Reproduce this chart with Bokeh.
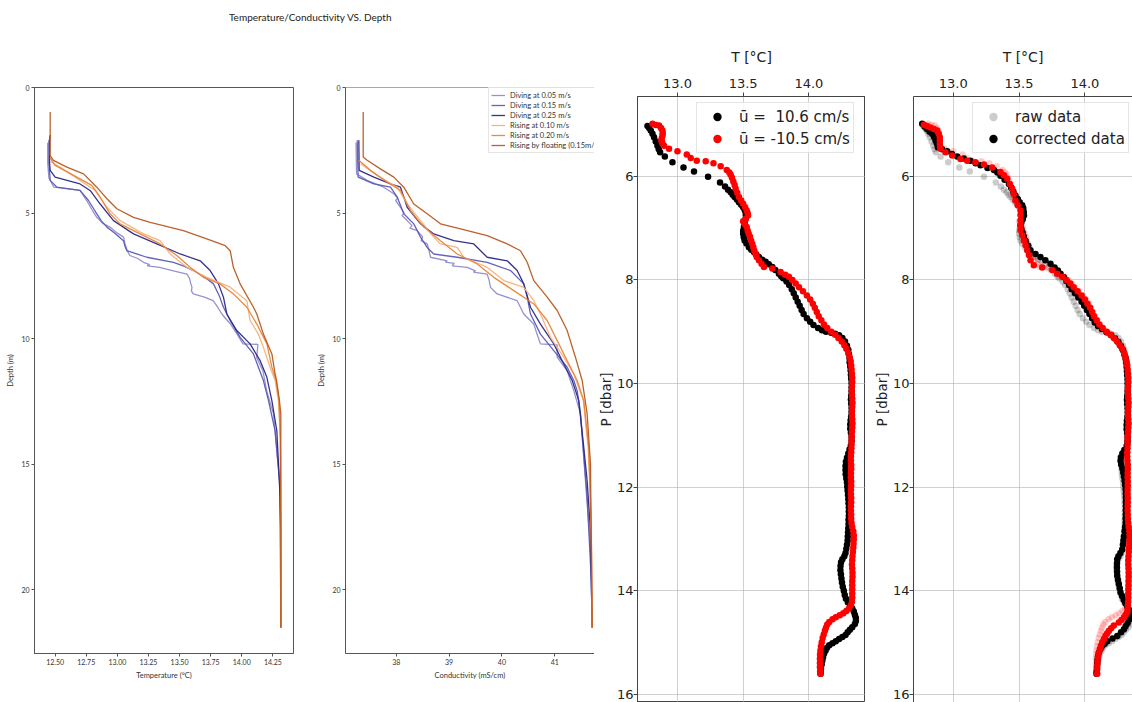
from bokeh.plotting import figure
from bokeh.models import Range1d, FixedTicker, Label, Legend, LegendItem, Span, NumeralTickFormatter, Spacer
from bokeh.layouts import row, column
from bokeh.embed import file_html
from bokeh.resources import INLINE

# ---------------- data: panel 1 (temperature vs depth) ----------------
# (depth m, temperature C)
temp_dive_005 = [(2.2, 12.44), (3.0, 12.44), (3.6, 12.45), (3.97, 12.49), (4.1, 12.70), (4.4, 12.74), (4.64, 12.77),
                 (4.9, 12.80), (5.17, 12.835), (5.4, 12.88), (5.56, 12.94), (5.8, 13.00), (5.96, 13.05), (6.2, 13.06),
                 (6.5, 13.08), (6.69, 13.10), (6.8, 13.16), (6.96, 13.21), (7.05, 13.26), (7.1, 13.24), (7.16, 13.34),
                 (7.3, 13.45), (7.43, 13.56), (7.6, 13.58), (7.8, 13.59), (7.96, 13.60), (8.1, 13.595), (8.22, 13.61),
                 (8.35, 13.70), (8.49, 13.77), (8.7, 13.80), (9.02, 13.84), (9.2, 13.87), (9.42, 13.91), (9.8, 13.96),
                 (10.21, 14.01), (10.23, 14.13), (10.5, 14.125), (10.75, 14.12), (11.28, 14.17), (12.07, 14.20),
                 (13.0, 14.255), (14.34, 14.28), (15.66, 14.305), (17.5, 14.314), (21.5, 14.314)]
temp_dive_015 = [(2.1, 12.45), (3.0, 12.45), (3.7, 12.46), (3.97, 12.514), (4.1, 12.70), (4.5, 12.768), (5.03, 12.835),
                 (5.3, 12.87), (5.56, 12.916), (5.8, 12.98), (6.1, 13.049), (6.3, 13.06), (6.5, 13.076), (6.76, 13.237),
                 (6.96, 13.451), (7.1, 13.53), (7.29, 13.612), (7.55, 13.70), (7.82, 13.773), (8.3, 13.82),
                 (8.75, 13.853), (9.28, 13.907), (9.95, 13.987), (10.61, 14.094), (11.14, 14.134), (11.67, 14.174),
                 (12.47, 14.215), (13.67, 14.268), (15.66, 14.303), (17.5, 14.312), (21.5, 14.314)]
temp_dive_025 = [(1.9, 12.46), (2.06, 12.455), (3.0, 12.455), (3.3, 12.46), (3.57, 12.5), (3.84, 12.70), (4.1, 12.781),
                 (4.64, 12.862), (5.3, 12.969), (5.83, 13.13), (6.23, 13.317), (6.63, 13.505), (6.9, 13.666),
                 (7.29, 13.746), (7.82, 13.813), (8.35, 13.853), (9.02, 13.88), (9.68, 13.96), (10.21, 14.067),
                 (10.88, 14.148), (11.54, 14.202), (12.47, 14.242), (13.67, 14.282), (16.33, 14.309), (21.5, 14.314)]
temp_rise_010 = [(2.94, 12.46), (3.2, 12.55), (3.7, 12.70), (4.1, 12.822), (4.77, 12.916), (5.3, 13.022), (5.83, 13.21),
                 (6.1, 13.344), (6.63, 13.424), (7.16, 13.559), (7.56, 13.719), (7.95, 13.907), (8.49, 14.041),
                 (9.28, 14.067), (9.82, 14.134), (10.35, 14.174), (11.14, 14.228), (11.67, 14.268), (12.47, 14.295),
                 (14.0, 14.310), (17.0, 14.314), (21.5, 14.314)]
temp_rise_020 = [(2.8, 12.46), (3.1, 12.5), (3.57, 12.674), (3.9, 12.795), (4.37, 12.862), (5.03, 12.942), (5.43, 13.022),
                 (5.83, 13.183), (6.23, 13.344), (6.69, 13.478), (7.16, 13.585), (7.56, 13.692), (7.82, 13.826),
                 (8.22, 13.933), (8.75, 14.041), (9.42, 14.121), (10.21, 14.202), (11.14, 14.242), (11.67, 14.277),
                 (12.47, 14.30), (14.0, 14.31), (17.0, 14.314), (21.5, 14.314)]
temp_float = [(0.98, 12.46), (2.71, 12.46), (2.9, 12.486), (3.17, 12.594), (3.44, 12.728), (3.97, 12.835), (4.43, 12.916),
              (4.83, 12.996), (5.17, 13.13), (5.37, 13.264), (5.70, 13.531), (6.03, 13.719), (6.30, 13.867),
              (6.50, 13.907), (7.17, 13.933), (7.82, 13.987), (8.75, 14.094), (9.02, 14.121), (9.82, 14.174),
              (10.61, 14.242), (11.41, 14.268), (11.67, 14.28), (12.47, 14.303), (13.0, 14.314), (21.5, 14.314)]

# ---------------- data: panel 2 (conductivity vs depth) ----------------
cond_dive_005 = [(2.2, 37.24), (3.44, 37.25), (3.7, 37.45), (3.97, 37.765), (4.23, 37.955), (4.4, 38.03), (4.5, 37.99),
                 (4.77, 38.081), (5.0, 38.15), (5.1, 38.11), (5.3, 38.208), (5.5, 38.30), (5.6, 38.26), (5.7, 38.397),
                 (5.95, 38.50), (6.1, 38.47), (6.23, 38.586), (6.5, 38.62), (6.76, 38.649), (6.9, 38.965),
                 (6.95, 38.93), (7.0, 39.10), (7.1, 39.06), (7.16, 39.343), (7.3, 39.50), (7.35, 39.46),
                 (7.43, 39.721), (7.7, 39.76), (7.96, 39.784), (8.22, 39.91), (8.49, 40.288), (8.75, 40.35),
                 (9.02, 40.413), (9.42, 40.603), (9.8, 40.66), (10.21, 40.729), (10.25, 41.045), (10.74, 41.045),
                 (11.28, 41.234), (12.07, 41.359), (13.0, 41.486), (15.66, 41.58), (18.3, 41.675), (21.5, 41.707)]
cond_dive_015 = [(2.1, 37.262), (3.57, 37.28), (3.84, 37.577), (3.97, 37.892), (4.37, 38.02), (5.03, 38.144),
                 (5.43, 38.333), (5.96, 38.46), (6.37, 38.586), (6.63, 38.711), (6.76, 39.154), (6.96, 39.721),
                 (7.29, 40.162), (7.82, 40.413), (8.35, 40.478), (9.02, 40.54), (9.82, 40.729), (10.48, 40.981),
                 (11.14, 41.234), (11.67, 41.359), (12.07, 41.423), (13.0, 41.486), (16.33, 41.612), (19.6, 41.69),
                 (21.5, 41.707)]
cond_dive_025 = [(2.1, 37.293), (3.3, 37.30), (3.57, 37.577), (3.84, 37.892), (3.97, 38.081), (4.77, 38.208),
                 (5.43, 38.46), (5.83, 38.711), (6.1, 39.09), (6.23, 39.468), (6.76, 39.721), (6.9, 40.10),
                 (7.29, 40.288), (7.82, 40.413), (8.75, 40.54), (9.42, 40.729), (10.21, 40.981), (11.01, 41.17),
                 (11.67, 41.329), (12.47, 41.454), (14.33, 41.548), (15.66, 41.612), (17.65, 41.675), (21.5, 41.707)]
cond_rise_010 = [(3.04, 37.325), (3.5, 37.64), (3.97, 38.02), (4.64, 38.208), (5.3, 38.46), (5.96, 38.711),
                 (6.23, 38.838), (6.37, 39.154), (6.76, 39.279), (7.16, 39.721), (7.69, 40.035), (7.96, 40.413),
                 (8.49, 40.603), (9.02, 40.729), (9.95, 40.919), (10.75, 41.17), (11.41, 41.359), (12.47, 41.54),
                 (14.33, 41.63), (17.0, 41.69), (21.5, 41.707)]
cond_rise_020 = [(2.9, 37.293), (3.3, 37.514), (3.77, 37.83), (4.1, 38.081), (4.9, 38.27), (5.56, 38.522),
                 (6.1, 38.838), (6.63, 39.154), (7.03, 39.532), (7.56, 39.846), (8.09, 40.224), (8.62, 40.603),
                 (9.28, 40.856), (10.08, 41.045), (10.88, 41.234), (11.67, 41.423), (12.47, 41.548), (14.33, 41.643),
                 (18.3, 41.694), (21.5, 41.707)]
cond_float = [(0.98, 37.376), (2.77, 37.376), (2.9, 37.45), (3.24, 37.70), (3.57, 37.955), (3.97, 38.144),
              (4.64, 38.333), (5.03, 38.586), (5.43, 38.838), (5.63, 39.216), (5.9, 39.721), (6.23, 40.10),
              (6.5, 40.351), (6.96, 40.478), (7.69, 40.603), (8.35, 40.856), (8.88, 41.045), (9.68, 41.234),
              (10.74, 41.39), (11.67, 41.518), (13.0, 41.612), (14.99, 41.675), (21.5, 41.707)]

series_labels = ["Diving at 0.05 m/s", "Diving at 0.15 m/s", "Diving at 0.25 m/s",
                 "Rising at 0.10 m/s", "Rising at 0.20 m/s", "Rising by floating (0.15m/s)"]
series_colors = ["#8f8ccd", "#5c59b5", "#2b2887", "#f5b27d", "#e8833a", "#b8581d"]

# ---------------- data: panel 3 (raw profiles, P dbar, T C) ----------------
down_raw = [(5.03, 12.772), (5.07, 12.785), (5.12, 12.797), (5.18, 12.81), (5.25, 12.822), (5.33, 12.835), (5.41, 12.848),
            (5.48, 12.858), (5.54, 12.868), (5.62, 12.904), (5.73, 12.962), (5.83, 13.046), (5.91, 13.126),
            (6.01, 13.233), (6.12, 13.324), (6.20, 13.362), (6.26, 13.385), (6.31, 13.405), (6.36, 13.42),
            (6.40, 13.435), (6.45, 13.452), (6.50, 13.468), (6.55, 13.485), (6.60, 13.50), (6.65, 13.512),
            (6.69, 13.519), (6.75, 13.52), (6.82, 13.519), (6.90, 13.512), (6.98, 13.506), (7.05, 13.50),
            (7.11, 13.50), (7.18, 13.505), (7.24, 13.511), (7.30, 13.525), (7.37, 13.544), (7.42, 13.562),
            (7.46, 13.582), (7.51, 13.60), (7.56, 13.62), (7.61, 13.645), (7.65, 13.671), (7.70, 13.695),
            (7.75, 13.722), (7.81, 13.745), (7.88, 13.772), (7.93, 13.79), (7.97, 13.805), (8.03, 13.83),
            (8.10, 13.85), (8.18, 13.87), (8.26, 13.885), (8.34, 13.90), (8.42, 13.915), (8.50, 13.93),
            (8.58, 13.945), (8.66, 13.96), (8.74, 13.985), (8.81, 14.01), (8.87, 14.035), (8.93, 14.07),
            (8.97, 14.10), (9.00, 14.13), (9.02, 14.17), (9.04, 14.20), (9.07, 14.23), (9.12, 14.255),
            (9.19, 14.275), (9.27, 14.29), (9.35, 14.30), (9.43, 14.305), (9.51, 14.31), (9.59, 14.31),
            (9.67, 14.315), (9.75, 14.318), (9.83, 14.32), (9.91, 14.322), (9.99, 14.325), (10.07, 14.325),
            (10.15, 14.325), (10.23, 14.322), (10.31, 14.32), (10.39, 14.322), (10.47, 14.325), (10.55, 14.325),
            (10.63, 14.322), (10.71, 14.318), (10.79, 14.315), (10.87, 14.315), (10.95, 14.32), (11.03, 14.325),
            (11.11, 14.325), (11.19, 14.32), (11.27, 14.31), (11.35, 14.30), (11.43, 14.29), (11.51, 14.282),
            (11.59, 14.279), (11.67, 14.279), (11.75, 14.28), (11.83, 14.285), (11.91, 14.29), (11.99, 14.292),
            (12.07, 14.295), (12.15, 14.298), (12.23, 14.30), (12.31, 14.302), (12.39, 14.304), (12.47, 14.304),
            (12.55, 14.304), (12.63, 14.302), (12.71, 14.302), (12.79, 14.30), (12.87, 14.298), (12.95, 14.296),
            (13.03, 14.295), (13.11, 14.29), (13.19, 14.285), (13.27, 14.279), (13.33, 14.27), (13.39, 14.255),
            (13.45, 14.245), (13.52, 14.241), (13.60, 14.24), (13.68, 14.244), (13.76, 14.248), (13.84, 14.252),
            (13.92, 14.258), (14.00, 14.266), (14.08, 14.273), (14.15, 14.282), (14.22, 14.297), (14.28, 14.315),
            (14.34, 14.33), (14.40, 14.342), (14.46, 14.35), (14.52, 14.357), (14.58, 14.358), (14.64, 14.35),
            (14.70, 14.33), (14.75, 14.312), (14.80, 14.295), (14.85, 14.279), (14.89, 14.255), (14.93, 14.23),
            (14.97, 14.205), (15.01, 14.18), (15.05, 14.155), (15.10, 14.138), (15.15, 14.127), (15.21, 14.116),
            (15.28, 14.108), (15.35, 14.102), (15.42, 14.097), (15.50, 14.092), (15.57, 14.09), (15.60, 14.089)]
up_raw = [(4.99, 12.81), (5.01, 12.835), (5.02, 12.86), (5.07, 12.875), (5.12, 12.886), (5.17, 12.888), (5.22, 12.886),
          (5.27, 12.88), (5.31, 12.878), (5.36, 12.885), (5.41, 12.898), (5.47, 12.936), (5.52, 13.00), (5.58, 13.071),
          (5.65, 13.101), (5.70, 13.147), (5.71, 13.215), (5.75, 13.274), (5.81, 13.329), (5.88, 13.375),
          (5.93, 13.395), (5.97, 13.405), (6.03, 13.415), (6.10, 13.425), (6.17, 13.435), (6.24, 13.443),
          (6.32, 13.455), (6.40, 13.468), (6.47, 13.485), (6.53, 13.50), (6.60, 13.515), (6.66, 13.527),
          (6.71, 13.534), (6.76, 13.537), (6.82, 13.52), (6.87, 13.50), (6.92, 13.512), (6.98, 13.527),
          (7.05, 13.535), (7.11, 13.542), (7.17, 13.552), (7.24, 13.56), (7.31, 13.57), (7.37, 13.577),
          (7.44, 13.585), (7.50, 13.595), (7.56, 13.603), (7.62, 13.62), (7.69, 13.64), (7.75, 13.658),
          (7.78, 13.722), (7.85, 13.785), (7.90, 13.82), (7.94, 13.848), (8.00, 13.875), (8.07, 13.90),
          (8.14, 13.925), (8.22, 13.955), (8.30, 13.985), (8.38, 14.01), (8.46, 14.03), (8.54, 14.045),
          (8.62, 14.06), (8.70, 14.075), (8.78, 14.095), (8.86, 14.115), (8.93, 14.14), (9.00, 14.17),
          (9.06, 14.20), (9.12, 14.225), (9.19, 14.25), (9.26, 14.27), (9.33, 14.285), (9.41, 14.30),
          (9.49, 14.31), (9.57, 14.318), (9.65, 14.322), (9.73, 14.325), (9.81, 14.328), (9.89, 14.33),
          (9.97, 14.33), (10.05, 14.328), (10.13, 14.326), (10.21, 14.328), (10.29, 14.33), (10.37, 14.332),
          (10.45, 14.33), (10.53, 14.328), (10.61, 14.328), (10.69, 14.33), (10.77, 14.332), (10.85, 14.33),
          (10.93, 14.328), (11.01, 14.326), (11.09, 14.325), (11.17, 14.325), (11.25, 14.324), (11.33, 14.322),
          (11.41, 14.32), (11.49, 14.32), (11.57, 14.322), (11.65, 14.322), (11.73, 14.32), (11.81, 14.32),
          (11.89, 14.322), (11.97, 14.322), (12.05, 14.32), (12.13, 14.32), (12.21, 14.322), (12.29, 14.322),
          (12.37, 14.32), (12.45, 14.32), (12.53, 14.322), (12.61, 14.322), (12.69, 14.325), (12.77, 14.33),
          (12.85, 14.338), (12.93, 14.342), (13.01, 14.342), (13.09, 14.34), (13.17, 14.338), (13.25, 14.335),
          (13.33, 14.332), (13.41, 14.33), (13.49, 14.328), (13.57, 14.33), (13.65, 14.332), (13.73, 14.332),
          (13.81, 14.33), (13.89, 14.33), (13.97, 14.33), (14.05, 14.33), (14.13, 14.33), (14.21, 14.328),
          (14.28, 14.32), (14.34, 14.305), (14.39, 14.285), (14.43, 14.262), (14.47, 14.235), (14.51, 14.205),
          (14.55, 14.18), (14.60, 14.155), (14.65, 14.14), (14.71, 14.13), (14.77, 14.122), (14.84, 14.113),
          (14.91, 14.105), (14.99, 14.098), (15.07, 14.092), (15.15, 14.088), (15.23, 14.085), (15.31, 14.084),
          (15.39, 14.084), (15.47, 14.084), (15.55, 14.086), (15.60, 14.089)]

# ---------------- data: panel 4 (corrected profiles) ----------------
down_corr = [(4.99, 12.764), (5.04, 12.782), (5.09, 12.80), (5.14, 12.82), (5.18, 12.84), (5.24, 12.853), (5.31, 12.865),
             (5.37, 12.875), (5.44, 12.883), (5.48, 12.915), (5.52, 12.954), (5.57, 12.99), (5.62, 13.03),
             (5.66, 13.08), (5.70, 13.13), (5.75, 13.17), (5.79, 13.207), (5.84, 13.26), (5.88, 13.309),
             (5.93, 13.335), (5.99, 13.359), (6.07, 13.39), (6.15, 13.423), (6.22, 13.44), (6.30, 13.457),
             (6.37, 13.473), (6.44, 13.49), (6.50, 13.505), (6.56, 13.524), (6.62, 13.532), (6.69, 13.536),
             (6.76, 13.537), (6.83, 13.528), (6.89, 13.518), (6.95, 13.511), (7.02, 13.518), (7.09, 13.527),
             (7.17, 13.537), (7.25, 13.55), (7.34, 13.57), (7.43, 13.587), (7.50, 13.625), (7.56, 13.663),
             (7.62, 13.70), (7.69, 13.739), (7.76, 13.77), (7.82, 13.795), (7.88, 13.815), (7.95, 13.84),
             (8.02, 13.86), (8.10, 13.88), (8.18, 13.90), (8.26, 13.925), (8.34, 13.95), (8.42, 13.975),
             (8.50, 13.995), (8.58, 14.015), (8.66, 14.035), (8.74, 14.055), (8.82, 14.075), (8.89, 14.10),
             (8.95, 14.13), (9.01, 14.165), (9.07, 14.20), (9.13, 14.23), (9.20, 14.255), (9.28, 14.275),
             (9.36, 14.29), (9.44, 14.30), (9.52, 14.31), (9.60, 14.315), (9.68, 14.318), (9.76, 14.32),
             (9.84, 14.322), (9.92, 14.325), (10.0, 14.325), (10.08, 14.326), (10.16, 14.325), (10.24, 14.322),
             (10.32, 14.32), (10.40, 14.322), (10.48, 14.325), (10.56, 14.326), (10.64, 14.324), (10.72, 14.32),
             (10.80, 14.318), (10.88, 14.318), (10.96, 14.322), (11.04, 14.325), (11.12, 14.324), (11.20, 14.318),
             (11.28, 14.30), (11.35, 14.285), (11.42, 14.274), (11.49, 14.271), (11.56, 14.276), (11.64, 14.285),
             (11.72, 14.292), (11.80, 14.297), (11.88, 14.302), (11.96, 14.306), (12.05, 14.31), (12.13, 14.311),
             (12.21, 14.312), (12.29, 14.312), (12.37, 14.312), (12.45, 14.311), (12.53, 14.311), (12.61, 14.31),
             (12.69, 14.31), (12.77, 14.306), (12.85, 14.302), (12.95, 14.297), (13.03, 14.293), (13.11, 14.289),
             (13.20, 14.284), (13.27, 14.27), (13.33, 14.255), (13.39, 14.246), (13.47, 14.244), (13.55, 14.244),
             (13.63, 14.245), (13.71, 14.246), (13.79, 14.252), (13.87, 14.258), (13.95, 14.265), (14.03, 14.271),
             (14.10, 14.283), (14.17, 14.295), (14.24, 14.308), (14.30, 14.322), (14.36, 14.335), (14.42, 14.347),
             (14.48, 14.347), (14.55, 14.34), (14.62, 14.325), (14.68, 14.31), (14.74, 14.297), (14.80, 14.275),
             (14.87, 14.246), (14.92, 14.21), (14.97, 14.17), (15.02, 14.15), (15.06, 14.132), (15.12, 14.118),
             (15.19, 14.107), (15.26, 14.10), (15.33, 14.096), (15.40, 14.094), (15.47, 14.092), (15.54, 14.09),
             (15.60, 14.089)]
up_corr = [(5.006, 12.777), (5.03, 12.80), (5.06, 12.827), (5.09, 12.853), (5.12, 12.878), (5.18, 12.89), (5.25, 12.898),
           (5.31, 12.898), (5.38, 12.898), (5.43, 12.90), (5.47, 12.903), (5.54, 12.941), (5.60, 12.992),
           (5.67, 13.055), (5.70, 13.106), (5.73, 13.169), (5.775, 13.233), (5.83, 13.296), (5.92, 13.359),
           (5.98, 13.385), (6.05, 13.41), (6.15, 13.43), (6.24, 13.448), (6.35, 13.46), (6.47, 13.473),
           (6.56, 13.49), (6.66, 13.511), (6.75, 13.511), (6.85, 13.511), (6.94, 13.511), (7.04, 13.511),
           (7.14, 13.524), (7.24, 13.537), (7.33, 13.55), (7.43, 13.562), (7.52, 13.575), (7.62, 13.587),
           (7.72, 13.612), (7.76, 13.676), (7.81, 13.752), (7.88, 13.79), (7.94, 13.828), (8.0, 13.86),
           (8.07, 13.89), (8.14, 13.915), (8.22, 13.945), (8.30, 13.975), (8.38, 14.0), (8.46, 14.02),
           (8.54, 14.04), (8.62, 14.055), (8.70, 14.07), (8.78, 14.09), (8.86, 14.11), (8.93, 14.135),
           (9.00, 14.165), (9.06, 14.195), (9.12, 14.22), (9.19, 14.245), (9.26, 14.265), (9.33, 14.283),
           (9.41, 14.298), (9.49, 14.308), (9.57, 14.316), (9.65, 14.322), (9.73, 14.325), (9.81, 14.328),
           (9.89, 14.33), (9.97, 14.33), (10.05, 14.328), (10.13, 14.326), (10.21, 14.328), (10.29, 14.33),
           (10.37, 14.332), (10.45, 14.33), (10.53, 14.328), (10.61, 14.328), (10.69, 14.33), (10.77, 14.332),
           (10.85, 14.33), (10.93, 14.328), (11.01, 14.326), (11.09, 14.325), (11.17, 14.325), (11.25, 14.324),
           (11.33, 14.322), (11.41, 14.322), (11.49, 14.324), (11.57, 14.326), (11.65, 14.326), (11.73, 14.325),
           (11.81, 14.325), (11.89, 14.326), (11.97, 14.326), (12.05, 14.325), (12.13, 14.325), (12.21, 14.326),
           (12.29, 14.326), (12.37, 14.325), (12.45, 14.325), (12.53, 14.326), (12.61, 14.327), (12.69, 14.33),
           (12.77, 14.333), (12.85, 14.338), (12.93, 14.34), (13.01, 14.34), (13.09, 14.338), (13.17, 14.336),
           (13.25, 14.334), (13.33, 14.332), (13.41, 14.33), (13.49, 14.33), (13.57, 14.332), (13.65, 14.333),
           (13.73, 14.333), (13.81, 14.332), (13.89, 14.332), (13.97, 14.331), (14.05, 14.33), (14.13, 14.33),
           (14.21, 14.329), (14.28, 14.327), (14.35, 14.325), (14.415, 14.322), (14.46, 14.31), (14.51, 14.297),
           (14.56, 14.278), (14.61, 14.258), (14.67, 14.22), (14.72, 14.20), (14.77, 14.183), (14.82, 14.17),
           (14.865, 14.157), (14.93, 14.145), (14.99, 14.132), (15.06, 14.122), (15.12, 14.114), (15.20, 14.106),
           (15.28, 14.099), (15.36, 14.096), (15.44, 14.094), (15.51, 14.094), (15.60, 14.094)]

legend3_labels = ["ū =  10.6 cm/s", "ū = -10.5 cm/s"]
legend4_labels = ["raw data", "corrected data"]
title_text = "Temperature/Conductivity VS. Depth"


def split(pairs):
    return [p[1] for p in pairs], [p[0] for p in pairs]


SMALL_FONT = "Lato"
BIG_FONT = "DejaVu Sans"


def style_small(p, xlabel, xticks, fmt):
    p.xaxis.axis_label = xlabel
    p.yaxis.axis_label = "Depth (m)"
    p.xaxis.ticker = FixedTicker(ticks=xticks)
    if fmt:
        p.xaxis.formatter = NumeralTickFormatter(format=fmt)
    p.yaxis.ticker = FixedTicker(ticks=[0, 5, 10, 15, 20])
    for ax in (p.xaxis, p.yaxis):
        ax.major_label_text_font = SMALL_FONT
        ax.major_label_text_font_size = "7px"
        ax.major_label_text_color = "#333333"
        ax.axis_label_text_font = SMALL_FONT
        ax.axis_label_text_font_size = "7.5px"
        ax.axis_label_text_font_style = "normal"
        ax.axis_label_text_color = "#333333"
        ax.major_tick_out = 3
        ax.major_tick_in = 0
        ax.minor_tick_line_color = None
        ax.axis_line_color = "#555555"
        ax.major_tick_line_color = "#555555"
        ax.major_label_standoff = 2
        ax.axis_label_standoff = 3
    p.xgrid.visible = False
    p.ygrid.visible = False


def style_big(p):
    p.xaxis.axis_label = "T [°C]"
    p.yaxis.axis_label = "P [dbar]"
    p.xaxis.ticker = FixedTicker(ticks=[13.0, 13.5, 14.0])
    p.xaxis.formatter = NumeralTickFormatter(format="0.0")
    p.yaxis.ticker = FixedTicker(ticks=[6, 8, 10, 12, 14, 16])
    for ax in (p.xaxis, p.yaxis):
        ax.major_label_text_font = BIG_FONT
        ax.major_label_text_font_size = "13px"
        ax.major_label_text_color = "#222222"
        ax.axis_label_text_font = BIG_FONT
        ax.axis_label_text_font_style = "normal"
        ax.axis_label_text_color = "#222222"
        ax.major_tick_out = 4
        ax.major_tick_in = 0
        ax.minor_tick_line_color = None
        ax.axis_line_color = "#444444"
        ax.major_tick_line_color = "#444444"
    p.xaxis.axis_label_text_font_size = "14px"
    p.yaxis.axis_label_text_font_size = "13.5px"
    p.xaxis.major_label_standoff = 5
    p.xaxis.axis_label_standoff = 11
    p.yaxis.major_label_standoff = 0
    p.yaxis.axis_label_standoff = 0
    p.grid.grid_line_color = "#b0b0b0"
    p.grid.grid_line_alpha = 0.6


# ---------------- title strip (left half) ----------------
tf = figure(width=594, height=23, x_range=Range1d(0, 1), y_range=Range1d(0, 1), x_axis_type=None,
            y_axis_type=None, min_border=0, outline_line_color=None, toolbar_location=None, output_backend="svg")
tf.add_layout(Label(x=310, y=7, x_units="screen", y_units="screen", text=title_text, text_align="center",
                    text_baseline="middle", text_font_size="10px", text_font=SMALL_FONT, text_color="#222222"))

# ---------------- panel 1 ----------------
p1 = figure(frame_width=259, frame_height=566, min_border_left=34, min_border_right=17, min_border_top=64,
            min_border_bottom=49, x_range=Range1d(12.334, 14.416), y_range=Range1d(22.54, 0),
            toolbar_location=None, output_backend="svg")
style_small(p1, "Temperature (°C)", [12.5, 12.75, 13.0, 13.25, 13.5, 13.75, 14.0, 14.25], "0.00")
p1.outline_line_color = "#555555"
for data, c in zip([temp_dive_005, temp_dive_015, temp_dive_025, temp_rise_010, temp_rise_020, temp_float],
                   series_colors):
    x, y = split(data)
    p1.line(x, y, line_color=c, line_width=1.3, line_alpha=0.95)

# ---------------- panel 2 ----------------
p2 = figure(frame_width=249, frame_height=566, min_border_left=35, min_border_right=0, min_border_top=64,
            min_border_bottom=49, x_range=Range1d(37.041, 41.751), y_range=Range1d(22.54, 0),
            toolbar_location=None, output_backend="svg")
style_small(p2, "Conductivity (mS/cm)", [38, 39, 40, 41], None)
p2.outline_line_color = None
p2.add_layout(Span(location=0, dimension="width", line_color="#555555", line_width=1))
items2 = []
for data, c, lab in zip([cond_dive_005, cond_dive_015, cond_dive_025, cond_rise_010, cond_rise_020, cond_float],
                        series_colors, series_labels):
    x, y = split(data)
    r = p2.line(x, y, line_color=c, line_width=1.3, line_alpha=0.95)
    items2.append(LegendItem(label=lab, renderers=[r]))
leg2 = Legend(items=items2, location=(143, 500), label_text_font=SMALL_FONT, label_text_font_size="7.5px",
              label_text_color="#333333", glyph_width=14, glyph_height=10, label_height=10, label_standoff=5,
              padding=2, spacing=0, margin=0, border_line_color="#cccccc", background_fill_alpha=0.85)
p2.add_layout(leg2)

# ---------------- panel 3 ----------------
p3 = figure(frame_width=228, frame_height=606, min_border_left=43, min_border_right=0, min_border_top=64,
            min_border_bottom=0, x_range=Range1d(12.696, 14.431), y_range=Range1d(16.154, 4.462),
            x_axis_location="above", toolbar_location=None, output_backend="svg")
style_big(p3)
p3.outline_line_color = "#444444"
xd, yd = split(down_raw)
xu, yu = split(up_raw)
r3a = p3.scatter(xd, yd, size=6.5, fill_color="black", line_color=None)
r3b = p3.scatter(xu, yu, size=6.5, fill_color="red", line_color=None)
leg3 = Legend(items=[LegendItem(label=legend3_labels[0], renderers=[r3a]),
                     LegendItem(label=legend3_labels[1], renderers=[r3b])],
              location=(59, 549), label_text_font=BIG_FONT, label_text_font_size="15px", label_text_color="#222222",
              glyph_width=34, glyph_height=21, label_height=21, label_standoff=5, padding=3, spacing=1, margin=0,
              border_line_color="#cccccc", background_fill_alpha=0.8)
p3.add_layout(leg3)

# ---------------- panel 4 ----------------
p4 = figure(frame_width=219, frame_height=606, min_border_left=48, min_border_right=0, min_border_top=64,
            min_border_bottom=0, x_range=Range1d(12.698, 14.362), y_range=Range1d(16.154, 4.462),
            x_axis_location="above", toolbar_location=None, output_backend="svg")
style_big(p4)
p4.outline_line_color = None
xdc, ydc = split(down_corr)
xuc, yuc = split(up_corr)
r4a = p4.scatter(xd, yd, size=6.5, fill_color="black", fill_alpha=0.2, line_color=None)
p4.scatter(xu, yu, size=6.5, fill_color="red", fill_alpha=0.2, line_color=None)
r4b = p4.scatter(xdc, ydc, size=6.5, fill_color="black", line_color=None)
p4.scatter(xuc, yuc, size=6.5, fill_color="red", line_color=None)
leg4 = Legend(items=[LegendItem(label=legend4_labels[0], renderers=[r4a]),
                     LegendItem(label=legend4_labels[1], renderers=[r4b])],
              location=(59, 549), label_text_font=BIG_FONT, label_text_font_size="15px", label_text_color="#222222",
              glyph_width=34, glyph_height=21, label_height=21, label_standoff=5, padding=3, spacing=1, margin=0,
              border_line_color="#cccccc", background_fill_alpha=0.8)
p4.add_layout(leg4)

left = column(tf, row(p1, p2, spacing=0), spacing=0)
right = column(Spacer(width=538, height=32), row(p3, p4, spacing=0), spacing=0)
layout = row(left, right, spacing=0)
open("out.html", "w").write(file_html(layout, INLINE))
